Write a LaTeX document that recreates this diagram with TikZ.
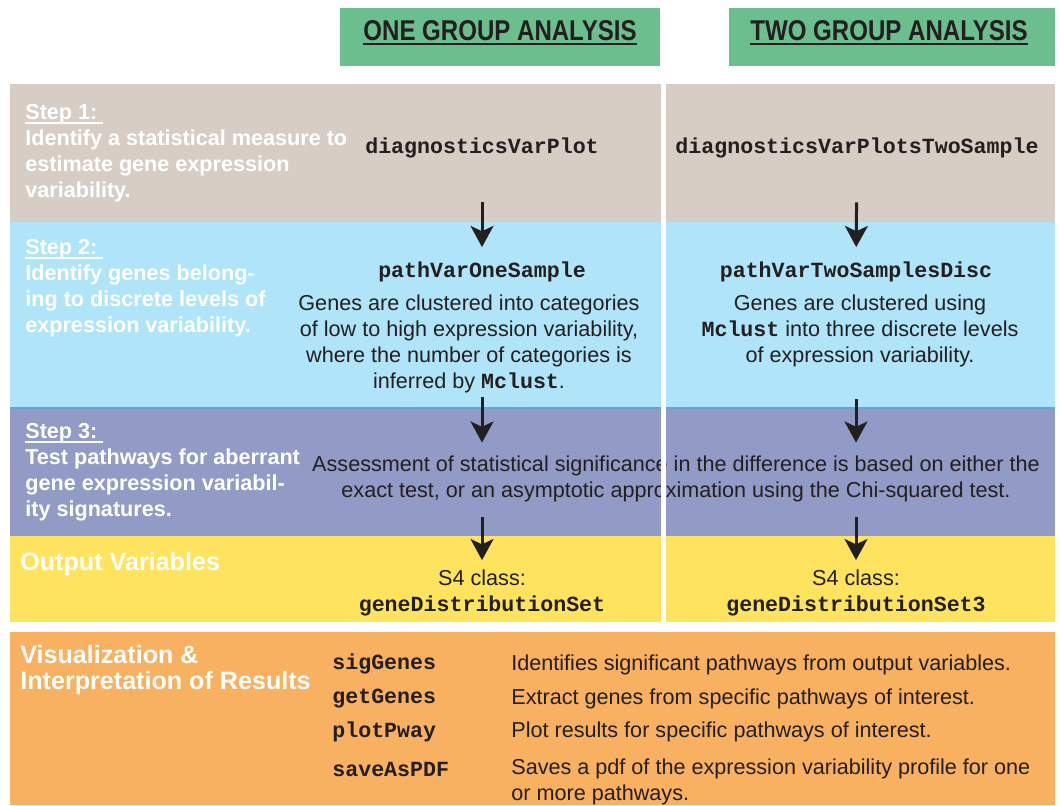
\documentclass[tikz,border=0pt]{standalone}
\usepackage{fontspec}
\setmainfont{Liberation Sans}
\setmonofont{Liberation Mono}
\newfontfamily\headfont[FakeStretch=0.84]{Liberation Sans}
\usetikzlibrary{arrows.meta,positioning}

\definecolor{hdrgreen}{HTML}{6BBF8E}
\definecolor{stepbeige}{HTML}{D8CDC5}
\definecolor{stepsky}{HTML}{B0E4F8}
\definecolor{steplav}{HTML}{929BC6}
\definecolor{edgeblue}{HTML}{6A9FD8}
\definecolor{outyellow}{HTML}{FEE45E}
\definecolor{visorange}{HTML}{F8B160}
\definecolor{ink}{HTML}{231F20}

\newcommand{\codename}[1]{\texttt{\bfseries #1}}
% thicker underline than \underline
\newcommand{\thickul}[1]{\leavevmode\setbox0\hbox{#1}\rlap{\vrule height -1.6pt depth 2.7pt width \wd0}\box0}

\begin{document}
\begin{tikzpicture}[x=0.02cm,y=-0.02cm,
    steplabel/.style={anchor=west,align=left,text=white,inner sep=0,
        font=\bfseries\fontsize{12.3}{14.7}\selectfont},
    bigstep/.style={steplabel,font=\bfseries\fontsize{14.3}{14.7}\selectfont},
    body/.style={align=center,text=ink,inner sep=0,
        font=\fontsize{12.3}{14.7}\selectfont},
    code/.style={text=ink,inner sep=0,
        font=\ttfamily\bfseries\fontsize{12.3}{14.7}\selectfont},
    header/.style={text=ink,inner sep=0,font=\headfont\bfseries\fontsize{16.3}{18}\selectfont},
    flow/.style={draw=ink,line width=1.7pt,-{Stealth[length=12pt,width=13pt,inset=3pt]}}]
    \useasboundingbox (0,0) rectangle (1060,805);

    % colour bands
    \fill[hdrgreen] (340,8) rectangle (660,66);
    \fill[hdrgreen] (729,8) rectangle (1055,66);
    \fill[stepbeige] (10,84) rectangle (1055,222);
    \fill[stepsky] (10,222) rectangle (1055,408);
    \fill[steplav] (10,408) rectangle (1055,536);
    \draw[edgeblue,line width=1.1pt] (10,408) -- (1055,408);
    \fill[outyellow] (10,536) rectangle (1055,622);
    \fill[visorange] (10,632) rectangle (1055,805);

    % column headers
    \node[header] (hdrone) at (500,33) {\thickul{ONE GROUP ANALYSIS}};
    \node[header] (hdrtwo) at (889,33) {\thickul{TWO GROUP ANALYSIS}};

    % left column labels
    \node[steplabel] (step1) at (25,153) {\thickul{Step 1:\ }\\Identify a statistical measure to\\estimate gene expression\\variability.};
    \node[steplabel] (step2) at (25,288) {\thickul{Step 2:\ }\\Identify genes belong-\\ing to discrete levels of\\expression variability.};
    \node[steplabel] (step3) at (25,472) {\thickul{Step 3:\ }\\Test pathways for aberrant\\gene expression variabil-\\ity signatures.};
    \node[bigstep] (outvars) at (20,564) {Output Variables};
    \node[bigstep] (visual) at (20,670) {Visualization \&\\Interpretation of Results};

    % one group column
    \node[code] (diagone) at (482,148) {diagnosticsVarPlot};
    \node[code] (pathone) at (482,272) {pathVarOneSample};
    \node[body] (clusone) at (469,344) {Genes are clustered into categories\\of low to high expression variability,\\where the number of categories is\\inferred by \codename{Mclust}.};
    \node[body] (outone) at (482,593) {S4 class:\\\codename{geneDistributionSet}};

    % two group column
    \node[code] (diagtwo) at (857,148) {diagnosticsVarPlotsTwoSample};
    \node[code] (pathtwo) at (856,272) {pathVarTwoSamplesDisc};
    \node[body] (clustwo) at (860,331) {Genes are clustered using\\\codename{Mclust} into three discrete levels\\of expression variability.};
    \node[body] (outtwo) at (856,593) {S4 class:\\\codename{geneDistributionSet3}};

    % shared test
    \node[body] (assess) at (676,479) {Assessment of statistical significance in the difference is based on either the\\exact test, or an asymptotic approximation using the Chi-squared test.};

    % arrows
    \draw[flow,shorten <=31pt,shorten >=14.2pt] (diagone.center) -- (pathone.center);
    \draw[flow,shorten <=71.4pt,shorten >=85.6pt] (pathone.center) -- (outone.center);
    \draw[flow,shorten <=139.5pt,shorten >=18.7pt] (pathone.center) -- (outone.center);
    \draw[flow,shorten <=31pt,shorten >=14.2pt] (diagtwo.center) -- (pathtwo.center);
    \draw[flow,shorten <=72.5pt,shorten >=85.6pt] (pathtwo.center) -- (outtwo.center);
    \draw[flow,shorten <=139.5pt,shorten >=18.7pt] (pathtwo.center) -- (outtwo.center);

    % column separator
    \fill[white] (661,84) rectangle (666,622);

    % visualization functions
    \node[code,anchor=west] (siggenes) at (332,664) {sigGenes};
    \node[code,anchor=west] (getgenes) at (332,699) {getGenes};
    \node[code,anchor=west] (plotpway) at (332,732) {plotPway};
    \node[code,anchor=west] (saveaspdf) at (332,769) {saveAsPDF};
    \node[body,anchor=west,align=left] (sigtext) at (511,665) {Identifies significant pathways from output variables.};
    \node[body,anchor=west,align=left] (gettext) at (511,699) {Extract genes from specific pathways of interest.};
    \node[body,anchor=west,align=left] (plottext) at (511,732) {Plot results for specific pathways of interest.};
    \node[body,anchor=west,align=left] (savetext) at (511,782) {Saves a pdf of the expression variability profile for one\\or more pathways.};
\end{tikzpicture}
\end{document}
